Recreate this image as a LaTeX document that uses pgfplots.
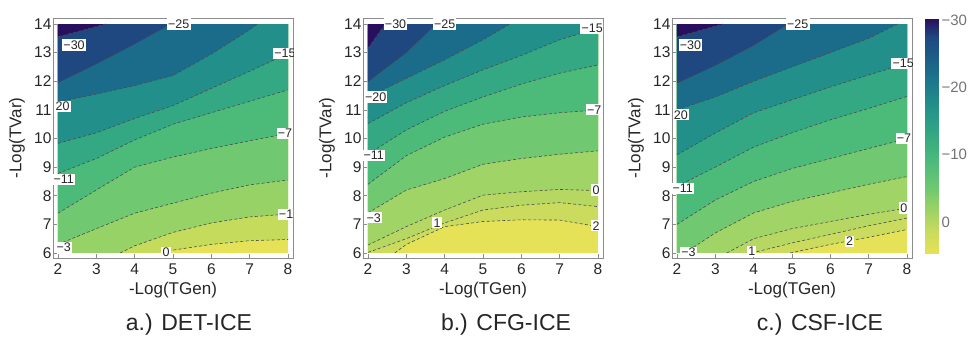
\documentclass[border=0pt]{standalone}
\usepackage{fontspec}
\setmainfont{Liberation Sans}
\usepackage{pgfplots}
\pgfplotsset{compat=1.18}

\definecolor{c30}{RGB}{40,16,94}
\definecolor{c25}{RGB}{31,72,128}
\definecolor{c20}{RGB}{27,108,139}
\definecolor{c15}{RGB}{34,143,138}
\definecolor{c11}{RGB}{52,168,130}
\definecolor{c7}{RGB}{76,187,122}
\definecolor{c3}{RGB}{112,200,112}
\definecolor{a1}{RGB}{150,210,102}
\definecolor{a0}{RGB}{196,219,92}
\definecolor{apos}{RGB}{229,226,88}
\definecolor{b0}{RGB}{160,212,102}
\definecolor{b1}{RGB}{182,216,98}
\definecolor{b2}{RGB}{203,219,93}
\definecolor{bpos}{RGB}{229,226,88}

\tikzset{
  cline/.style={draw=black!70, dash pattern=on 3pt off 2.2pt, line width=0.6pt},
  clab/.style={fill=white, inner sep=1.2pt, font=\fontsize{12.5}{12.5}\selectfont, text=black!85},
}
\pgfplotsset{
  colormap={mma}{rgb255(0cm)=(40,16,94); rgb255(2.7cm)=(31,72,128); rgb255(7.7cm)=(27,108,139);
    rgb255(12.7cm)=(34,143,138); rgb255(17.2cm)=(52,168,130); rgb255(21.2cm)=(76,187,122);
    rgb255(25.2cm)=(112,200,112); rgb255(28.7cm)=(160,212,100); rgb255(31.7cm)=(201,219,93);
    rgb255(34.95cm)=(232,226,86)},
  panel/.style={
    scale only axis, width=240pt, height=240pt, anchor=south west,
    xmin=1.87, xmax=8.13, ymin=5.825, ymax=14.21,
    xtick={2,3,4,5,6,7,8}, ytick={6,7,8,9,10,11,12,13,14},
    tick align=inside, tick pos=left,
    major tick length=4pt,
    axis line style={draw=black!45, line width=0.9pt},
    every tick/.style={black!45, line width=0.6pt},
    /pgf/number format/assume math mode=true,
    ticklabel style={font=\fontsize{15.5}{15.5}\selectfont, text=black!85},
    xticklabel style={yshift=-2pt},
    yticklabel style={xshift=2pt},
    label style={font=\fontsize{17}{17}\selectfont, text=black!85},
    xlabel={-Log(TGen)}, ylabel={-Log(TVar)},
    xlabel style={at={(axis description cs:0.5,-0.135)}, anchor=center},
    ylabel style={at={(axis description cs:-0.15,0.5)}, anchor=center},
  },
}
\newcommand{\band}[3]{%
  \addplot[fill=#1, draw=none, mark=none, forget plot] coordinates {#2 #3};
  \addplot[cline, mark=none, forget plot] coordinates {#2};}
\newcommand{\clab}[2]{\node[clab] at (axis cs:#1) {#2};}

\begin{document}
\begin{tikzpicture}
% ---------------- a.) DET-ICE
\begin{axis}[panel, at={(53pt,86pt)}]
\addplot[fill=apos, draw=none, mark=none, forget plot] coordinates {(2,6) (8,6) (8,14) (2,14)};
\band{a0}{(4.75,6) (5,6.1) (6,6.3) (7,6.43) (8,6.47)}{(8,14) (2,14) (2,6)}
\band{a1}{(3.62,6) (4,6.25) (5,6.72) (6,7.05) (7,7.26) (8,7.36)}{(8,14) (2,14) (2,6)}
\band{c3}{(2,6.3) (3,6.85) (4,7.39) (5,7.74) (6,8.09) (7,8.38) (8,8.55)}{(8,14) (2,14)}
\band{c7}{(2,7.39) (3,8.2) (4,9.0) (5,9.35) (6,9.65) (7,9.92) (8,10.18)}{(8,14) (2,14)}
\band{c11}{(2,8.78) (3,9.3) (4,9.95) (5,10.5) (6,10.9) (7,11.3) (8,11.7)}{(8,14) (2,14)}
\band{c15}{(2,9.83) (3,10.2) (4,10.7) (5,11.15) (6,11.75) (7,12.35) (8,12.97)}{(8,14) (2,14)}
\band{c20}{(2,11.28) (3,11.55) (4,11.85) (5,12.2) (6,12.95) (7,13.8) (7.2,14)}{(2,14)}
\band{c25}{(2,11.95) (3,12.6) (4,13.3) (4.95,14)}{(2,14)}
\band{c30}{(2,13.55) (3.25,14)}{(2,14)}
\clab{2.42,13.27}{−30}
\clab{5.15,14}{−25}
\clab{2.12,11.12}{20}
\clab{7.92,12.97}{−15}
\clab{2.15,8.57}{−11}
\clab{7.92,10.18}{−7}
\clab{2.15,6.2}{−3}
\clab{7.95,7.36}{−1}
\clab{4.82,6.03}{0}
\end{axis}
% ---------------- b.) CFG-ICE
\begin{axis}[panel, at={(363pt,86pt)}]
\addplot[fill=bpos, draw=none, mark=none, forget plot] coordinates {(2,6) (8,6) (8,14) (2,14)};
\band{b2}{(2.7,6) (3,6.3) (4,6.92) (5,7.1) (6,7.16) (7,7.15) (8,6.92)}{(8,14) (2,14) (2,6)}
\band{b1}{(2,6.02) (3,6.5) (4,7.05) (5,7.5) (6,7.67) (7,7.76) (8,7.62)}{(8,14) (2,14)}
\band{b0}{(2,6.28) (3,6.92) (4,7.5) (5,8.02) (6,8.14) (7,8.22) (8,8.18)}{(8,14) (2,14)}
\band{c3}{(2,7.4) (3,8.2) (4,8.6) (5,9.1) (6,9.3) (7,9.45) (8,9.57)}{(8,14) (2,14)}
\band{c7}{(2,8.4) (3,9.4) (4,10.05) (5,10.5) (6,10.75) (7,10.9) (8,11.0)}{(8,14) (2,14)}
\band{c11}{(2,9.45) (3,10.3) (4,10.95) (5,11.45) (6,11.9) (7,12.28) (8,12.57)}{(8,14) (2,14)}
\band{c15}{(2,10.52) (3,11.25) (4,11.85) (5,12.4) (6,12.9) (7,13.45) (8,13.85)}{(8,14) (2,14)}
\band{c20}{(2,11.45) (3,12.1) (4,12.75) (5,13.45) (5.7,14)}{(2,14)}
\band{c25}{(2,11.98) (3,13.0) (3.78,14)}{(2,14)}
\band{c30}{(2,13.15) (2.45,14)}{(2,14)}
\clab{2.72,14}{−30}
\clab{4.0,14}{−25}
\clab{2.2,11.45}{−20}
\clab{7.85,13.85}{−15}
\clab{2.15,9.42}{−11}
\clab{7.9,11.0}{−7}
\clab{2.15,7.23}{−3}
\clab{3.8,7.05}{1}
\clab{7.95,8.2}{0}
\clab{7.95,6.95}{2}
\end{axis}
% ---------------- c.) CSF-ICE
\begin{axis}[panel, at={(672pt,86pt)}]
\addplot[fill=bpos, draw=none, mark=none, forget plot] coordinates {(2,6) (8,6) (8,14) (2,14)};
\band{b2}{(4.95,6) (6,6.3) (7,6.55) (8,6.82)}{(8,14) (2,14) (2,6)}
\band{b1}{(3.95,6) (5,6.35) (6,6.65) (7,6.95) (8,7.22)}{(8,14) (2,14) (2,6)}
\band{b0}{(3.3,6) (4,6.5) (5,6.85) (6,7.1) (7,7.35) (8,7.57)}{(8,14) (2,14) (2,6)}
\band{c3}{(2.2,6) (3,6.7) (4,7.4) (5,7.8) (6,8.1) (7,8.4) (8,8.67)}{(8,14) (2,14) (2,6)}
\band{c7}{(2,7.0) (3,7.85) (4,8.5) (5,8.95) (6,9.3) (7,9.65) (8,10.0)}{(8,14) (2,14)}
\band{c11}{(2,8.33) (3,9.0) (4,9.7) (5,10.2) (6,10.65) (7,11.05) (8,11.47)}{(8,14) (2,14)}
\band{c15}{(2,9.43) (3,10.19) (4,10.9) (5,11.35) (6,11.8) (7,12.22) (8,12.63)}{(8,14) (2,14)}
\band{c20}{(2,11.0) (3,11.45) (4,12.0) (5,12.5) (6,13.0) (7,13.5) (7.75,14)}{(2,14)}
\band{c25}{(2,11.93) (3,12.55) (4,13.25) (4.9,14)}{(2,14)}
\band{c30}{(2,13.55) (3.2,14)}{(2,14)}
\clab{2.35,13.27}{−30}
\clab{5.15,14}{−25}
\clab{2.1,10.83}{20}
\clab{7.9,12.63}{−15}
\clab{2.15,8.27}{−11}
\clab{7.92,10.0}{−7}
\clab{2.3,6.02}{−3}
\clab{3.95,6.05}{1}
\clab{7.92,7.57}{0}
\clab{6.5,6.41}{2}
\end{axis}
% ---------------- colour bar
\begin{axis}[scale only axis, width=13pt, height=235pt, at={(925pt,90pt)}, anchor=south west,
  xmin=0, xmax=1, ymin=-30.2, ymax=4.75, y dir=reverse,
  axis line style={draw=none}, xtick=\empty, ytick={-30,-20,-10,0},
  yticklabels={−30,−20,−10,0}, yticklabel pos=right, major tick length=0pt,
  ticklabel style={font=\fontsize{15}{15}\selectfont, text=black!55},
  colormap name=mma, point meta min=-30.2, point meta max=4.75]
\addplot[surf, shader=interp, mesh/rows=2, point meta=\thisrow{c}] table {
x y c
0 -30.2 -30.2
1 -30.2 -30.2
0 4.75 4.75
1 4.75 4.75
};
\end{axis}
\node[font=\fontsize{23}{23}\selectfont, text=black!85] at (189pt,19pt) {a.) DET-ICE};
\node[font=\fontsize{23}{23}\selectfont, text=black!85] at (506pt,19pt) {b.) CFG-ICE};
\node[font=\fontsize{23}{23}\selectfont, text=black!85] at (820pt,19pt) {c.) CSF-ICE};
\pgfresetboundingbox
\useasboundingbox (0,0) rectangle (970pt,344pt);
\end{tikzpicture}
\end{document}
